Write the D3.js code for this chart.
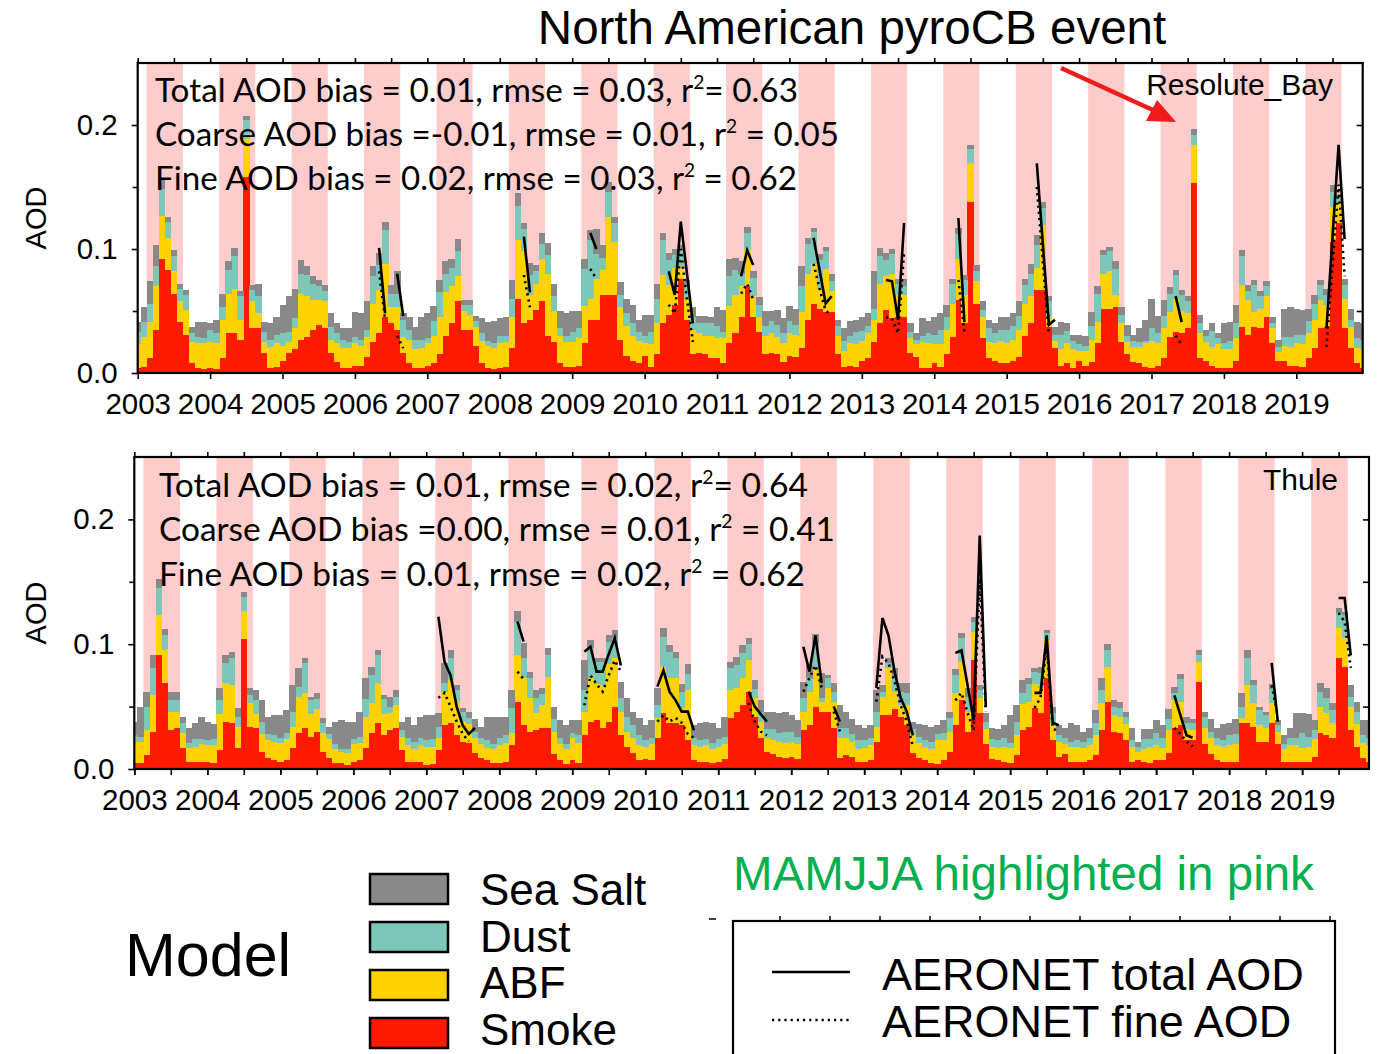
<!DOCTYPE html>
<html>
<head>
<meta charset="utf-8">
<script src="https://d3js.org/d3.v7.min.js"></script>
<style>
  body { margin: 0; background: #fff; }
  svg { display: block; }
</style>
</head>
<body>
<div id="chart"></div>
<script>
// ---------- data ----------
const years = d3.range(2003, 2020);          // Jan 2003 .. Dec 2019, monthly
const yTicks = [0, 0.1, 0.2];
const legendNames = ["Sea Salt", "Dust", "ABF", "Smoke"];

// Resolute_Bay model AOD by species (one row per year, Jan..Dec)
const smokeRB = [
  .004,.005,.012,.035,.092,.083,.064,.041,.031,.008,.004,.003,
  .004,.003,.012,.032,.032,.027,.158,.036,.036,.016,.004,.005,
  .010,.016,.019,.027,.029,.035,.039,.036,.016,.009,.004,.004,
  .006,.006,.013,.025,.032,.045,.040,.035,.016,.008,.004,.004,
  .006,.008,.015,.030,.040,.058,.035,.035,.022,.008,.004,.003,
  .004,.005,.020,.060,.040,.043,.051,.058,.030,.025,.008,.005,
  .005,.006,.024,.043,.043,.063,.063,.063,.027,.014,.010,.008,
  .014,.005,.015,.040,.047,.055,.076,.043,.015,.016,.015,.012,
  .012,.008,.024,.032,.045,.070,.045,.033,.015,.016,.015,.009,
  .014,.013,.020,.043,.056,.052,.049,.049,.015,.005,.006,.005,
  .010,.012,.025,.040,.051,.044,.045,.045,.016,.013,.004,.004,
  .008,.005,.015,.029,.059,.040,.138,.056,.028,.012,.010,.008,
  .008,.010,.013,.030,.040,.067,.067,.037,.020,.006,.008,.004,
  .010,.006,.009,.024,.052,.052,.053,.025,.015,.009,.008,.005,
  .004,.006,.012,.029,.033,.032,.036,.153,.012,.010,.006,.004,
  .004,.004,.010,.037,.031,.037,.036,.045,.024,.010,.010,.006,
  .006,.005,.012,.020,.036,.037,.106,.121,.036,.020,.008,.004
];
const abfRB = [
  .019,.024,.029,.035,.035,.026,.018,.017,.020,.017,.020,.021,
  .021,.021,.031,.032,.036,.016,.031,.022,.012,.009,.017,.019,
  .012,.009,.017,.037,.033,.024,.020,.022,.011,.015,.016,.016,
  .018,.016,.016,.031,.035,.043,.013,.018,.013,.019,.015,.016,
  .018,.022,.030,.035,.030,.020,.015,.012,.015,.018,.018,.017,
  .020,.020,.025,.047,.058,.020,.021,.034,.050,.025,.022,.020,
  .020,.022,.030,.017,.033,.020,.063,.043,.026,.024,.020,.018,
  .010,.018,.025,.039,.024,.030,.010,.017,.020,.016,.015,.018,
  .016,.020,.030,.031,.025,.029,.017,.012,.015,.016,.014,.015,
  .018,.018,.029,.037,.032,.016,.035,.017,.015,.013,.018,.018,
  .016,.020,.018,.032,.027,.036,.018,.018,.012,.010,.021,.020,
  .015,.018,.020,.027,.033,.023,.031,.018,.017,.013,.014,.018,
  .016,.017,.022,.026,.022,.018,.052,.008,.006,.013,.016,.015,
  .008,.012,.018,.017,.028,.030,.010,.015,.010,.012,.013,.019,
  .022,.018,.024,.020,.027,.018,.012,.031,.020,.015,.015,.019,
  .015,.015,.018,.034,.028,.012,.016,.017,.012,.007,.012,.015,
  .018,.018,.020,.023,.023,.018,.028,.016,.024,.017,.012,.015
];
const dustRB = [
  .010,.012,.015,.016,.021,.013,.012,.010,.012,.007,.005,.004,
  .010,.008,.010,.019,.026,.019,.015,.009,.014,.008,.006,.007,
  .010,.008,.008,.016,.017,.013,.011,.008,.010,.008,.007,.005,
  .005,.005,.006,.022,.020,.027,.011,.011,.014,.008,.008,.007,
  .004,.012,.020,.015,.015,.020,.005,.008,.005,.006,.004,.004,
  .006,.005,.015,.028,.018,.016,.010,.012,.015,.012,.006,.005,
  .008,.008,.030,.047,.020,.010,.020,.015,.010,.010,.010,.007,
  .006,.010,.020,.028,.020,.010,.012,.010,.010,.008,.010,.010,
  .010,.005,.024,.020,.010,.014,.015,.010,.008,.010,.010,.008,
  .010,.008,.021,.024,.026,.023,.014,.008,.008,.008,.006,.010,
  .008,.006,.009,.022,.013,.016,.009,.007,.005,.004,.005,.008,
  .008,.012,.010,.016,.020,.012,.012,.008,.006,.011,.008,.009,
  .011,.011,.011,.015,.018,.018,.014,.013,.005,.012,.010,.007,
  .005,.004,.011,.023,.015,.016,.021,.007,.005,.005,.004,.002,
  .010,.008,.010,.015,.019,.013,.010,.008,.008,.005,.013,.005,
  .005,.007,.012,.023,.007,.022,.010,.008,.004,.004,.007,.008,
  .007,.008,.010,.013,.012,.008,.012,.005,.011,.006,.008,.008
];
const saltRB = [
  .008,.012,.018,.017,.008,.004,.005,.004,.004,.005,.012,.013,
  .005,.011,.011,.007,.007,.004,.003,.004,.010,.008,.013,.014,
  .023,.029,.024,.011,.007,.006,.005,.005,.011,.008,.009,.011,
  .020,.021,.023,.008,.010,.007,.007,.018,.005,.010,.010,.018,
  .020,.012,.010,.010,.007,.010,.004,.004,.004,.012,.015,.018,
  .014,.015,.015,.010,.005,.010,.005,.009,.010,.010,.014,.018,
  .017,.014,.008,.008,.020,.010,.008,.005,.010,.012,.015,.010,
  .017,.014,.012,.006,.006,.005,.005,.005,.008,.006,.006,.005,
  .015,.018,.014,.010,.010,.005,.005,.006,.012,.008,.012,.012,
  .012,.013,.016,.005,.003,.005,.004,.006,.005,.010,.012,.010,
  .011,.010,.030,.007,.006,.004,.004,.006,.007,.005,.014,.010,
  .014,.013,.010,.004,.005,.004,.003,.005,.007,.007,.008,.010,
  .010,.010,.012,.005,.008,.008,.005,.004,.006,.010,.006,.005,
  .008,.008,.011,.006,.004,.004,.006,.006,.009,.005,.011,.017,
  .024,.014,.013,.005,.004,.004,.004,.005,.007,.005,.006,.004,
  .016,.015,.015,.005,.005,.004,.004,.004,.005,.006,.023,.024,
  .021,.020,.010,.007,.004,.005,.006,.002,.005,.009,.013,.013
];

// Thule model AOD by species
const smokeTH = [
  .005,.005,.011,.030,.091,.069,.031,.033,.017,.006,.006,.006,
  .006,.005,.015,.038,.037,.017,.104,.034,.033,.014,.009,.007,
  .006,.007,.017,.029,.033,.026,.030,.014,.009,.005,.005,.003,
  .006,.007,.017,.029,.037,.027,.031,.033,.015,.006,.006,.006,
  .003,.004,.015,.035,.037,.027,.022,.021,.013,.009,.007,.005,
  .005,.006,.019,.054,.035,.030,.031,.033,.033,.012,.007,.004,
  .007,.005,.027,.038,.039,.033,.038,.050,.027,.018,.013,.007,
  .008,.007,.025,.045,.037,.037,.035,.023,.007,.006,.006,.005,
  .006,.008,.041,.046,.051,.062,.042,.025,.014,.012,.010,.009,
  .010,.008,.031,.035,.050,.046,.046,.033,.009,.011,.010,.006,
  .006,.007,.022,.043,.043,.048,.042,.035,.013,.009,.007,.005,
  .004,.007,.014,.035,.055,.030,.087,.045,.020,.008,.007,.006,
  .005,.011,.031,.034,.049,.045,.073,.023,.010,.012,.006,.006,
  .006,.007,.011,.031,.054,.030,.029,.023,.006,.007,.006,.005,
  .007,.007,.013,.033,.035,.023,.023,.070,.020,.012,.007,.006,
  .006,.006,.037,.037,.034,.022,.022,.037,.020,.006,.006,.006,
  .006,.006,.010,.029,.027,.025,.089,.082,.031,.018,.009,.006
];
const abfTH = [
  .017,.017,.020,.029,.032,.026,.015,.013,.012,.011,.012,.014,
  .013,.014,.029,.031,.030,.017,.023,.019,.011,.014,.014,.015,
  .015,.017,.017,.029,.028,.018,.018,.015,.015,.011,.009,.010,
  .014,.014,.025,.024,.032,.017,.014,.018,.011,.013,.010,.013,
  .015,.014,.010,.027,.034,.027,.016,.015,.012,.011,.010,.011,
  .014,.015,.010,.037,.038,.027,.014,.018,.041,.018,.013,.012,
  .018,.016,.019,.035,.029,.034,.046,.039,.019,.012,.012,.012,
  .010,.013,.016,.037,.036,.036,.014,.040,.012,.012,.013,.011,
  .012,.012,.022,.019,.022,.025,.015,.013,.011,.011,.012,.012,
  .012,.012,.015,.027,.031,.008,.019,.021,.016,.014,.012,.010,
  .011,.012,.012,.015,.038,.014,.009,.016,.015,.012,.011,.011,
  .019,.016,.016,.026,.031,.016,.023,.012,.012,.010,.010,.012,
  .012,.016,.021,.020,.019,.020,.030,.014,.012,.008,.012,.012,
  .011,.012,.016,.022,.028,.013,.013,.013,.012,.007,.010,.013,
  .012,.010,.018,.022,.019,.009,.008,.016,.013,.013,.012,.012,
  .013,.014,.004,.030,.019,.013,.011,.016,.010,.010,.013,.013,
  .011,.012,.014,.021,.018,.012,.024,.023,.019,.018,.012,.013
];
const dustTH = [
  .005,.004,.019,.022,.022,.012,.009,.009,.008,.004,.006,.004,
  .004,.005,.011,.016,.022,.008,.011,.006,.011,.010,.005,.005,
  .004,.005,.012,.008,.024,.011,.008,.008,.004,.004,.002,.003,
  .004,.005,.014,.022,.022,.012,.005,.007,.005,.006,.006,.006,
  .005,.006,.009,.007,.018,.009,.008,.005,.005,.005,.006,.004,
  .006,.006,.020,.027,.016,.016,.012,.009,.017,.010,.005,.004,
  .004,.006,.017,.024,.018,.019,.018,.016,.011,.012,.010,.008,
  .005,.005,.010,.024,.021,.016,.013,.013,.006,.005,.005,.005,
  .006,.006,.018,.018,.020,.013,.007,.008,.007,.009,.007,.009,
  .008,.006,.011,.011,.020,.003,.008,.008,.008,.008,.006,.007,
  .006,.006,.012,.004,.004,.011,.011,.010,.004,.005,.005,.006,
  .005,.006,.011,.014,.019,.012,.008,.006,.006,.006,.006,.007,
  .004,.011,.009,.014,.010,.012,.006,.008,.005,.005,.004,.005,
  .005,.006,.010,.010,.013,.007,.007,.006,.005,.004,.008,.006,
  .010,.008,.009,.006,.018,.005,.006,.005,.009,.005,.006,.005,
  .008,.008,.009,.022,.014,.012,.010,.011,.005,.004,.006,.006,
  .012,.008,.007,.012,.012,.010,.012,.018,.008,.010,.006,.006
];
const saltTH = [
  .011,.024,.012,.010,.007,.005,.007,.007,.005,.012,.013,.018,
  .015,.012,.010,.006,.005,.007,.004,.006,.008,.017,.014,.016,
  .018,.018,.021,.015,.004,.003,.005,.004,.006,.018,.023,.022,
  .014,.020,.017,.007,.004,.003,.008,.005,.007,.017,.013,.017,
  .020,.019,.011,.016,.006,.004,.003,.005,.010,.009,.019,.022,
  .017,.015,.014,.009,.012,.005,.006,.005,.006,.010,.014,.015,
  .010,.012,.024,.006,.003,.003,.005,.006,.013,.015,.011,.014,
  .012,.014,.014,.007,.005,.005,.006,.008,.010,.014,.014,.016,
  .009,.016,.005,.007,.006,.005,.007,.009,.014,.014,.016,.016,
  .013,.013,.013,.010,.007,.020,.002,.007,.018,.013,.012,.012,
  .010,.010,.017,.005,.004,.008,.007,.008,.006,.010,.012,.012,
  .007,.010,.005,.005,.004,.007,.004,.004,.007,.009,.009,.010,
  .022,.013,.010,.005,.003,.005,.002,.005,.008,.008,.015,.012,
  .008,.008,.010,.010,.005,.005,.005,.004,.010,.004,.008,.008,
  .010,.010,.008,.005,.004,.005,.003,.004,.004,.010,.008,.013,
  .010,.012,.011,.006,.004,.003,.003,.004,.004,.007,.008,.020,
  .016,.018,.008,.007,.008,.006,.004,.003,.009,.008,.012,.014
];

// AERONET monthly AOD (only months with data)
const aeroTotalRB = [
  ["2006-05",.101],["2006-06",.048],["2006-08",.080],["2006-09",.046],
  ["2008-05",.110],["2008-06",.065],
  ["2009-04",.113],["2009-05",.100],
  ["2010-05",.082],["2010-06",.063],["2010-07",.122],["2010-08",.081],["2010-09",.040],
  ["2011-05",.078],["2011-06",.099],["2011-07",.087],
  ["2012-05",.109],["2012-06",.083],["2012-07",.056],["2012-08",.062],
  ["2013-05",.075],["2013-06",.074],["2013-07",.043],["2013-08",.121],
  ["2014-05",.125],["2014-06",.041],
  ["2015-06",.169],["2015-07",.104],["2015-08",.039],["2015-09",.043],
  ["2017-05",.062],["2017-06",.041],
  ["2019-06",.036],["2019-07",.110],["2019-08",.184],["2019-09",.108]
];
const aeroFineRB = [
  ["2006-05",.082],["2006-06",.043],["2006-08",.030],["2006-09",.020],
  ["2008-05",.079],["2008-06",.053],
  ["2009-04",.084],["2009-05",.076],
  ["2010-05",.055],["2010-06",.048],["2010-07",.100],["2010-08",.060],["2010-09",.025],
  ["2011-05",.064],["2011-06",.072],["2011-07",.059],
  ["2012-05",.088],["2012-06",.068],["2012-07",.050],["2012-08",.047],
  ["2013-05",.045],["2013-06",.044],["2013-07",.032],["2013-08",.097],
  ["2014-05",.075],["2014-06",.033],
  ["2015-06",.150],["2015-07",.090],["2015-08",.031],
  ["2017-05",.030],["2017-06",.023],
  ["2019-06",.021],["2019-07",.087],["2019-08",.152],["2019-09",.078]
];
const aeroTotalTH = [
  ["2007-03",.122],["2007-04",.086],["2007-05",.075],["2007-06",.050],["2007-07",.035],["2007-08",.028],["2007-09",.033],
  ["2008-04",.118],["2008-05",.102],
  ["2009-03",.094],["2009-04",.098],["2009-05",.078],["2009-06",.078],["2009-07",.092],["2009-08",.105],["2009-09",.083],
  ["2010-03",.066],["2010-04",.079],["2010-05",.062],["2010-06",.055],["2010-07",.046],["2010-08",.046],["2010-09",.031],
  ["2011-06",.062],["2011-07",.050],["2011-08",.044],["2011-09",.038],
  ["2012-03",.098],["2012-04",.078],["2012-05",.107],["2012-06",.069],["2012-08",.050],["2012-09",.038],
  ["2013-03",.065],["2013-04",.121],["2013-05",.107],["2013-06",.078],["2013-07",.057],["2013-08",.046],["2013-09",.027],
  ["2014-04",.093],["2014-05",.095],["2014-06",.067],["2014-07",.039],["2014-08",.187],["2014-09",.050],
  ["2015-05",.061],["2015-06",.061],["2015-07",.107],["2015-08",.037],["2015-09",.035],
  ["2017-04",.059],["2017-05",.043],["2017-06",.027],["2017-07",.025],
  ["2018-08",.085],["2018-09",.038],
  ["2019-07",.137],["2019-08",.137],["2019-09",.091]
];
const aeroFineTH = [
  ["2007-03",.057],["2007-04",.061],["2007-05",.050],["2007-06",.038],["2007-07",.028],["2007-08",.022],
  ["2008-04",.078],["2008-05",.072],
  ["2009-03",.051],["2009-04",.075],["2009-05",.068],["2009-06",.062],["2009-07",.075],["2009-08",.087],["2009-09",.078],
  ["2010-03",.038],["2010-04",.043],["2010-05",.038],["2010-06",.041],["2010-07",.037],["2010-08",.028],["2010-09",.025],
  ["2011-06",.053],["2011-07",.038],["2011-08",.030],["2011-09",.027],
  ["2012-03",.062],["2012-04",.073],["2012-05",.083],["2012-06",.065],["2012-08",.046],["2012-09",.030],
  ["2013-03",.054],["2013-04",.090],["2013-05",.085],["2013-06",.070],["2013-07",.051],["2013-08",.038],["2013-09",.018],
  ["2014-04",.055],["2014-05",.061],["2014-06",.045],["2014-07",.031],["2014-08",.153],["2014-09",.046],
  ["2015-05",.049],["2015-06",.057],["2015-07",.099],["2015-08",.033],["2015-09",.029],
  ["2017-04",.033],["2017-05",.028],["2017-06",.022],["2017-07",.018],
  ["2018-08",.067],["2018-09",.043],
  ["2019-07",.125],["2019-08",.118],["2019-09",.081]
];

const statsRB = [
  ["Total AOD bias = 0.01, rmse = 0.03, r", "2", "= 0.63"],
  ["Coarse AOD bias =-0.01, rmse = 0.01, r", "2", " = 0.05"],
  ["Fine AOD bias = 0.02, rmse = 0.03, r", "2", " = 0.62"]
];
const statsTH = [
  ["Total AOD bias = 0.01, rmse = 0.02, r", "2", "= 0.64"],
  ["Coarse AOD bias =0.00, rmse = 0.01, r", "2", " = 0.41"],
  ["Fine AOD bias = 0.01, rmse = 0.02, r", "2", " = 0.62"]
];

// ---------- setup ----------
const W = 1382, H = 1054;
const nMonths = years.length * 12;
const keys = ["smoke", "abf", "dust", "salt"];
const color = d3.scaleOrdinal()
  .domain(keys)
  .range(["#ff1a00", "#ffd200", "#7dc7b9", "#898989"]);
const legendColor = {"Sea Salt": "#898989", "Dust": "#7dc7b9", "ABF": "#ffd200", "Smoke": "#ff1a00"};
const pink = "#ffcccc";
const sansFont = "'Liberation Sans', Arial, Helvetica, sans-serif";
const statFont = "Lato, 'Open Sans', sans-serif";

const svg = d3.select("#chart").append("svg")
  .attr("width", W).attr("height", H)
  .style("font-family", sansFont);

// month string "YYYY-MM" -> index from Jan 2003
function monthIndex(s) {
  const [yy, mm] = s.split("-").map(Number);
  return (yy - years[0]) * 12 + (mm - 1);
}
function fullSeries(pairs) {
  const arr = d3.range(nMonths).map(i => ({i: i, v: null}));
  pairs.forEach(([m, v]) => { arr[monthIndex(m)].v = v; });
  return arr;
}

const panels = [
  {id: "rb", site: "Resolute_Bay", left: 137.7, right: 1362.7, top: 63, bottom: 373,
   smoke: smokeRB, abf: abfRB, dust: dustRB, salt: saltRB,
   total: aeroTotalRB, fine: aeroFineRB, stats: statsRB,
   statX: 155, statY: [102, 146, 190], statW: [643, 684, 642],
   siteX: 1333, siteY: 95, halfBottom: false},
  {id: "th", site: "Thule", left: 134.3, right: 1369, top: 457, bottom: 769,
   smoke: smokeTH, abf: abfTH, dust: dustTH, salt: saltTH,
   total: aeroTotalTH, fine: aeroFineTH, stats: statsTH,
   statX: 159, statY: [497, 541, 586], statW: [649, 676, 646],
   siteX: 1338, siteY: 490, halfBottom: true}
];

panels.forEach(drawPanel);

function drawPanel(p) {
  const x = d3.scaleLinear().domain([0, nMonths - 1]).range([p.left, p.right]);
  const y = d3.scaleLinear().domain([0, 0.25]).range([p.bottom, p.top]);

  svg.append("clipPath").attr("id", "clip-" + p.id)
    .append("rect")
      .attr("x", p.left).attr("y", p.top)
      .attr("width", p.right - p.left).attr("height", p.bottom - p.top);

  const plot = svg.append("g").attr("clip-path", `url(#clip-${p.id})`);

  // MAMJJA pink bands
  plot.selectAll("rect.band")
    .data(years)
    .join("rect")
      .attr("class", "band")
      .attr("x", d => x((d - years[0]) * 12 + 1.5))
      .attr("width", d => x((d - years[0]) * 12 + 7.5) - x((d - years[0]) * 12 + 1.5))
      .attr("y", p.top)
      .attr("height", p.bottom - p.top)
      .attr("fill", pink);

  // stacked monthly bars
  const rows = d3.range(nMonths).map(i => ({
    i: i, smoke: p.smoke[i], abf: p.abf[i], dust: p.dust[i], salt: p.salt[i]
  }));
  const series = d3.stack().keys(keys)(rows);
  const bw = x(1) - x(0);

  plot.selectAll("g.layer")
    .data(series)
    .join("g")
      .attr("class", "layer")
      .attr("fill", d => color(d.key))
    .selectAll("rect")
    .data(d => d)
    .join("rect")
      .attr("x", d => x(d.data.i) - bw / 2)
      .attr("width", bw + 0.4)
      .attr("y", d => y(d[1]))
      .attr("height", d => Math.max(0, y(d[0]) - y(d[1])))
      .attr("shape-rendering", "crispEdges");

  // AERONET lines
  const line = d3.line()
    .defined(d => d.v != null)
    .x(d => x(d.i))
    .y(d => y(d.v));

  plot.append("path")
    .datum(fullSeries(p.fine))
    .attr("fill", "none")
    .attr("stroke", "#000")
    .attr("stroke-width", 2.6)
    .attr("stroke-dasharray", "2.2,4")
    .attr("d", line);

  plot.append("path")
    .datum(fullSeries(p.total))
    .attr("fill", "none")
    .attr("stroke", "#000")
    .attr("stroke-width", 2.6)
    .attr("d", line);

  // axes
  const yearTicks = years.map(d => (d - years[0]) * 12);
  const halfTicks = d3.range(0, nMonths, 6);

  const left = svg.append("g")
    .attr("transform", `translate(${p.left},0)`)
    .call(d3.axisLeft(y).tickValues(yTicks).tickFormat(d3.format(".1f")).tickSize(6).tickPadding(14));
  left.append("g")
    .call(d3.axisLeft(y).tickValues([0.05, 0.15]).tickFormat("").tickSize(5));

  svg.append("g")
    .attr("transform", `translate(${p.right},0)`)
    .call(d3.axisLeft(y).tickValues([0.05, 0.1, 0.15, 0.2]).tickFormat("").tickSize(6));

  svg.append("g")
    .attr("transform", `translate(0,${p.top})`)
    .call(d3.axisTop(x).tickValues(halfTicks).tickFormat("").tickSize(5));

  const bottom = svg.append("g")
    .attr("transform", `translate(0,${p.bottom})`)
    .call(d3.axisBottom(x).tickValues(yearTicks)
      .tickFormat(d => years[0] + d / 12).tickSize(6).tickPadding(14));
  if (p.halfBottom) {
    bottom.append("g")
      .call(d3.axisBottom(x).tickValues(halfTicks).tickFormat("").tickSize(6));
  }

  svg.selectAll(".domain").remove();
  svg.selectAll(".tick line").attr("stroke", "#000").attr("stroke-width", 1.6);
  svg.selectAll(".tick text")
    .attr("fill", "#000")
    .style("font-family", sansFont)
    .style("font-size", "29.5px");

  // frame
  svg.append("rect")
    .attr("x", p.left).attr("y", p.top)
    .attr("width", p.right - p.left).attr("height", p.bottom - p.top)
    .attr("fill", "none")
    .attr("stroke", "#000")
    .attr("stroke-width", 2.2);

  // y label
  svg.append("text")
    .attr("transform", `translate(46,${(p.top + p.bottom) / 2}) rotate(-90)`)
    .attr("text-anchor", "middle")
    .style("font-size", "29px")
    .text("AOD");

  // statistics text, with r² as a raised small 2
  p.stats.forEach((s, k) => {
    const t = svg.append("text")
      .attr("x", p.statX)
      .attr("y", p.statY[k])
      .attr("textLength", p.statW[k])
      .attr("lengthAdjust", "spacingAndGlyphs")
      .style("font-family", statFont)
      .style("font-size", "33px");
    t.append("tspan").text(s[0]);
    t.append("tspan").attr("dy", -13).style("font-size", "19px").text(s[1]);
    t.append("tspan").attr("dy", 13).text(s[2]);
  });

  // site name
  svg.append("text")
    .attr("x", p.siteX)
    .attr("y", p.siteY)
    .attr("text-anchor", "end")
    .style("font-size", "30px")
    .text(p.site);
}

// title
svg.append("text")
  .attr("x", 852).attr("y", 44)
  .attr("text-anchor", "middle")
  .style("font-size", "47.5px")
  .text("North American pyroCB event");

// red arrow to the August 2017 spike
svg.append("line")
  .attr("x1", 1061).attr("y1", 68)
  .attr("x2", 1155).attr("y2", 111)
  .attr("stroke", "#ee1c1c")
  .attr("stroke-width", 4.5);
svg.append("polygon")
  .attr("points", "1176,122 1146,121 1157,100")
  .attr("fill", "#ee1c1c");

// model legend
svg.append("text")
  .attr("x", 125).attr("y", 976)
  .style("font-size", "61px")
  .text("Model");

const leg = svg.append("g");
leg.selectAll("rect")
  .data(legendNames)
  .join("rect")
    .attr("x", 370)
    .attr("y", (d, i) => 874 + i * 48)
    .attr("width", 78)
    .attr("height", 30)
    .attr("fill", d => legendColor[d])
    .attr("stroke", "#000")
    .attr("stroke-width", 2.5);
leg.selectAll("text")
  .data(legendNames)
  .join("text")
    .attr("x", 480)
    .attr("y", (d, i) => 905 + i * 46.5)
    .style("font-size", "44px")
    .text(d => d);

svg.append("text")
  .attr("x", 733).attr("y", 890)
  .attr("fill", "#00b050")
  .style("font-size", "47.5px")
  .text("MAMJJA highlighted in pink");

// AERONET legend box (top edge carries small tick marks)
svg.append("line")
  .attr("x1", 709).attr("x2", 716).attr("y1", 919).attr("y2", 919)
  .attr("stroke", "#000").attr("stroke-width", 1.5);
svg.selectAll("line.boxtick")
  .data(d3.range(780, 1335, 50))
  .join("line")
    .attr("class", "boxtick")
    .attr("x1", d => d).attr("x2", d => d)
    .attr("y1", 916).attr("y2", 921)
    .attr("stroke", "#000").attr("stroke-width", 1.5);
svg.append("rect")
  .attr("x", 733).attr("y", 921)
  .attr("width", 602).attr("height", 200)
  .attr("fill", "none")
  .attr("stroke", "#000")
  .attr("stroke-width", 2.2);
svg.append("line")
  .attr("x1", 772).attr("x2", 850).attr("y1", 972).attr("y2", 972)
  .attr("stroke", "#000").attr("stroke-width", 2.6);
svg.append("line")
  .attr("x1", 772).attr("x2", 850).attr("y1", 1020).attr("y2", 1020)
  .attr("stroke", "#000").attr("stroke-width", 2.6)
  .attr("stroke-dasharray", "2.2,4");
svg.append("text")
  .attr("x", 882).attr("y", 990)
  .style("font-size", "45px")
  .text("AERONET total AOD");
svg.append("text")
  .attr("x", 882).attr("y", 1037)
  .style("font-size", "45px")
  .text("AERONET fine AOD");
</script>
</body>
</html>
